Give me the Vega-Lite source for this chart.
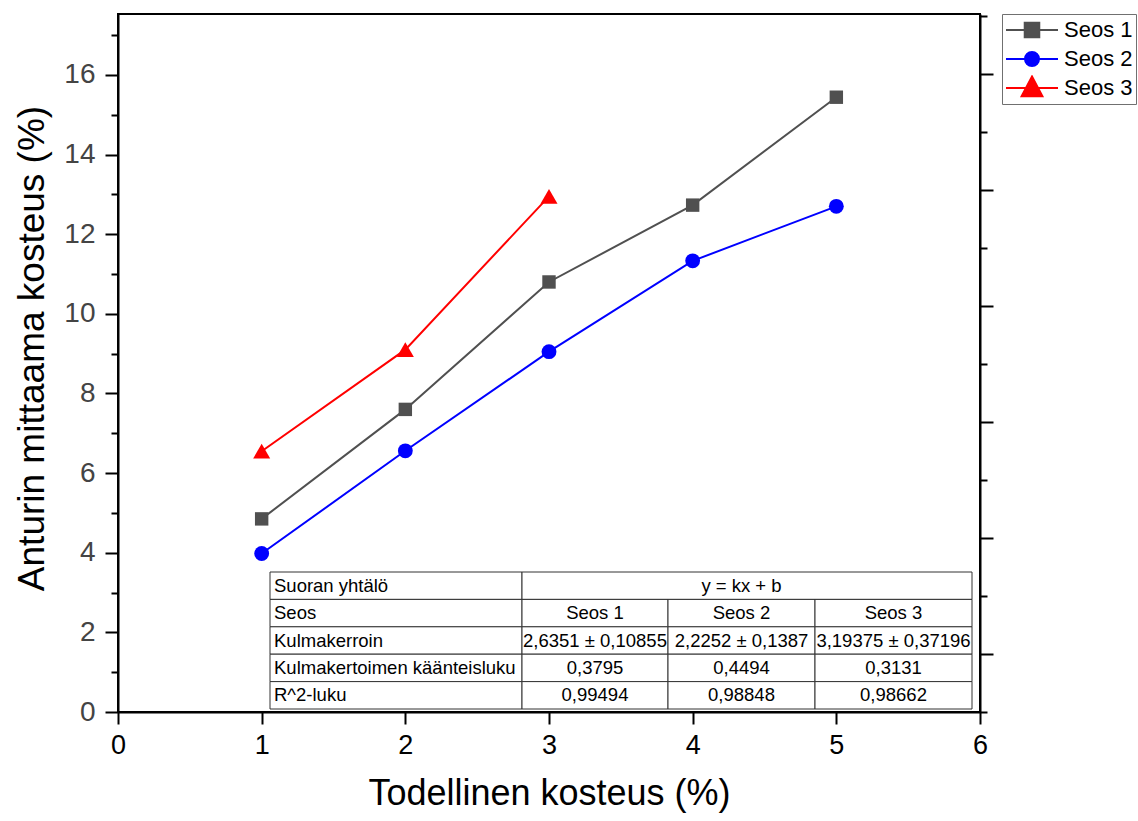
{
  "$schema": "https://vega.github.io/schema/vega-lite/v6.json",
  "width": 862,
  "height": 698,
  "autosize": {"type": "none"},
  "padding": {"left": 118, "top": 14, "right": 158, "bottom": 109},
  "background": "white",
  "config": {
    "view": {"stroke": "black", "strokeWidth": 2},
    "font": "Liberation Sans",
    "axis": {
      "domainColor": "black",
      "domainWidth": 2,
      "tickColor": "black",
      "tickWidth": 2,
      "grid": false,
      "labelFont": "Liberation Sans",
      "titleFont": "Liberation Sans",
      "titleFontWeight": "normal",
      "titleColor": "black"
    },
    "legend": {
      "title": null,
      "orient": "none",
      "legendX": 884,
      "legendY": 0,
      "strokeColor": "#707070",
      "fillColor": "white",
      "padding": 3,
      "rowPadding": 3,
      "labelFont": "Liberation Sans",
      "labelFontSize": 22,
      "labelColor": "black",
      "labelOffset": 5,
      "symbolSize": 2704,
      "symbolStrokeWidth": 2,
      "clipHeight": 26
    }
  },
  "datasets": {
    "meas": [
      {"series": "Seos 1", "x": 1, "y": 4.85},
      {"series": "Seos 1", "x": 2, "y": 7.6},
      {"series": "Seos 1", "x": 3, "y": 10.8},
      {"series": "Seos 1", "x": 4, "y": 12.73},
      {"series": "Seos 1", "x": 5, "y": 15.44},
      {"series": "Seos 2", "x": 1, "y": 3.98},
      {"series": "Seos 2", "x": 2, "y": 6.56},
      {"series": "Seos 2", "x": 3, "y": 9.05},
      {"series": "Seos 2", "x": 4, "y": 11.33},
      {"series": "Seos 2", "x": 5, "y": 12.7},
      {"series": "Seos 3", "x": 1, "y": 6.55},
      {"series": "Seos 3", "x": 2, "y": 9.1},
      {"series": "Seos 3", "x": 3, "y": 12.95}
    ],
    "table": [
      {"row": 0, "c0": 0, "c1": 1, "text": "Suoran yhtälö"},
      {"row": 0, "c0": 1, "c1": 4, "text": "y = kx + b"},
      {"row": 1, "c0": 0, "c1": 1, "text": "Seos"},
      {"row": 1, "c0": 1, "c1": 2, "text": "Seos 1"},
      {"row": 1, "c0": 2, "c1": 3, "text": "Seos 2"},
      {"row": 1, "c0": 3, "c1": 4, "text": "Seos 3"},
      {"row": 2, "c0": 0, "c1": 1, "text": "Kulmakerroin"},
      {"row": 2, "c0": 1, "c1": 2, "text": "2,6351 ± 0,10855"},
      {"row": 2, "c0": 2, "c1": 3, "text": "2,2252 ± 0,1387"},
      {"row": 2, "c0": 3, "c1": 4, "text": "3,19375 ± 0,37196"},
      {"row": 3, "c0": 0, "c1": 1, "text": "Kulmakertoimen käänteisluku"},
      {"row": 3, "c0": 1, "c1": 2, "text": "0,3795"},
      {"row": 3, "c0": 2, "c1": 3, "text": "0,4494"},
      {"row": 3, "c0": 3, "c1": 4, "text": "0,3131"},
      {"row": 4, "c0": 0, "c1": 1, "text": "R^2-luku"},
      {"row": 4, "c0": 1, "c1": 2, "text": "0,99494"},
      {"row": 4, "c0": 2, "c1": 3, "text": "0,98848"},
      {"row": 4, "c0": 3, "c1": 4, "text": "0,98662"}
    ]
  },
  "layer": [
    {
      "data": {"name": "meas"},
      "encoding": {
        "x": {
          "field": "x",
          "type": "quantitative",
          "scale": {"domain": [0, 6], "nice": false, "zero": false},
          "axis": {
            "values": [0, 0.5, 1, 1.5, 2, 2.5, 3, 3.5, 4, 4.5, 5, 5.5, 6],
            "format": "d",
            "labelExpr": "datum.value % 1 === 0 ? format(datum.value, 'd') : ''",
            "tickSize": {"condition": {"test": "datum.value % 1 === 0", "value": 12}, "value": 6},
            "labelFontSize": 27,
            "labelColor": "black",
            "labelPadding": 8,
            "labelFlush": false,
            "title": "Todellinen kosteus (%)",
            "titleFontSize": 36,
            "titlePadding": 18
          }
        },
        "y": {
          "field": "y",
          "type": "quantitative",
          "scale": {"domain": [0, 17.53], "nice": false, "zero": false},
          "axis": {
            "values": [0, 1, 2, 3, 4, 5, 6, 7, 8, 9, 10, 11, 12, 13, 14, 15, 16, 17],
            "labelExpr": "datum.value % 2 === 0 ? datum.label : ''",
            "tickSize": {"condition": {"test": "datum.value % 2 === 0", "value": 13}, "value": 7},
            "labelFontSize": 28,
            "labelColor": "#444444",
            "labelPadding": 10,
            "labelFlush": false,
            "title": "Anturin mittaama kosteus (%)",
            "titleFontSize": 37,
            "titlePadding": 12,
            "titleY": 334
          }
        },
        "color": {
          "field": "series",
          "type": "nominal",
          "scale": {"domain": ["Seos 1", "Seos 2", "Seos 3"], "range": ["#505050", "#0000ff", "#ff0000"]}
        }
      },
      "layer": [
        {"mark": {"type": "line", "strokeWidth": 2}},
        {
          "transform": [{"filter": "datum.series === 'Seos 1'"}],
          "mark": {"type": "point", "shape": "square", "size": 180, "filled": true, "opacity": 1}
        },
        {
          "transform": [{"filter": "datum.series === 'Seos 2'"}],
          "mark": {"type": "point", "shape": "circle", "size": 220, "filled": true, "opacity": 1}
        },
        {
          "transform": [{"filter": "datum.series === 'Seos 3'"}],
          "mark": {"type": "point", "shape": "triangle-up", "size": 290, "filled": true, "opacity": 1}
        },
        {
          "mark": {"type": "point", "filled": true, "strokeWidth": 2, "opacity": 1, "clip": true},
          "encoding": {
            "yOffset": {"value": 3000},
            "stroke": {
              "field": "series",
              "type": "nominal",
              "scale": {"domain": ["Seos 1", "Seos 2", "Seos 3"], "range": ["#505050", "#0000ff", "#ff0000"]}
            },
            "shape": {
              "field": "series",
              "type": "nominal",
              "scale": {
                "domain": ["Seos 1", "Seos 2", "Seos 3"],
                "range": [
                  "M-1,0L1,0M-0.28,-0.28L0.28,-0.28L0.28,0.28L-0.28,0.28Z",
                  "M-1,0L1,0M-0.27,0A0.27,0.27,0,1,1,0.27,0A0.27,0.27,0,1,1,-0.27,0Z",
                  "M-1,0L1,0M0,-0.44L0.4,0.32L-0.4,0.32Z"
                ]
              }
            }
          }
        }
      ]
    },
    {
      "data": {"name": "meas"},
      "mark": {"type": "point", "opacity": 0},
      "encoding": {
        "y": {
          "datum": 0,
          "type": "quantitative",
          "scale": {"domain": [0, 6.017], "nice": false, "zero": false},
          "axis": {
            "orient": "right",
            "values": [0, 0.5, 1, 1.5, 2, 2.5, 3, 3.5, 4, 4.5, 5, 5.5, 6],
            "labels": false,
            "title": null,
            "tickSize": {"condition": {"test": "datum.value % 1 !== 0", "value": 13}, "value": 7}
          }
        }
      }
    },
    {
      "data": {"name": "table"},
      "encoding": {
        "y": {
          "field": "row",
          "type": "ordinal",
          "scale": {"type": "band", "domain": [0, 1, 2, 3, 4], "range": [558, 695], "paddingInner": 0, "paddingOuter": 0},
          "axis": null
        }
      },
      "layer": [
        {
          "mark": {"type": "rect", "fill": "white", "stroke": "#333333", "strokeWidth": 1},
          "encoding": {
            "x": {
              "field": "c0",
              "type": "quantitative",
              "scale": {"domain": [0, 1, 2, 3, 4], "range": [152, 404, 550, 697, 854], "nice": false, "zero": false},
              "axis": null
            },
            "x2": {"field": "c1"}
          }
        },
        {
          "transform": [{"filter": "datum.c0 === 0"}],
          "mark": {"type": "text", "align": "left", "baseline": "middle", "dx": 4, "font": "Liberation Sans", "fontSize": 18.5, "color": "black"},
          "encoding": {
            "x": {"field": "c0", "type": "quantitative"},
            "text": {"field": "text"}
          }
        },
        {
          "transform": [{"filter": "datum.c0 > 0"}, {"calculate": "(datum.c0 + datum.c1) / 2", "as": "cx"}],
          "mark": {"type": "text", "align": "center", "baseline": "middle", "font": "Liberation Sans", "fontSize": 18.5, "color": "black"},
          "encoding": {
            "x": {"field": "cx", "type": "quantitative"},
            "text": {"field": "text"}
          }
        }
      ]
    }
  ],
  "resolve": {"scale": {"x": "independent", "y": "independent"}}
}
